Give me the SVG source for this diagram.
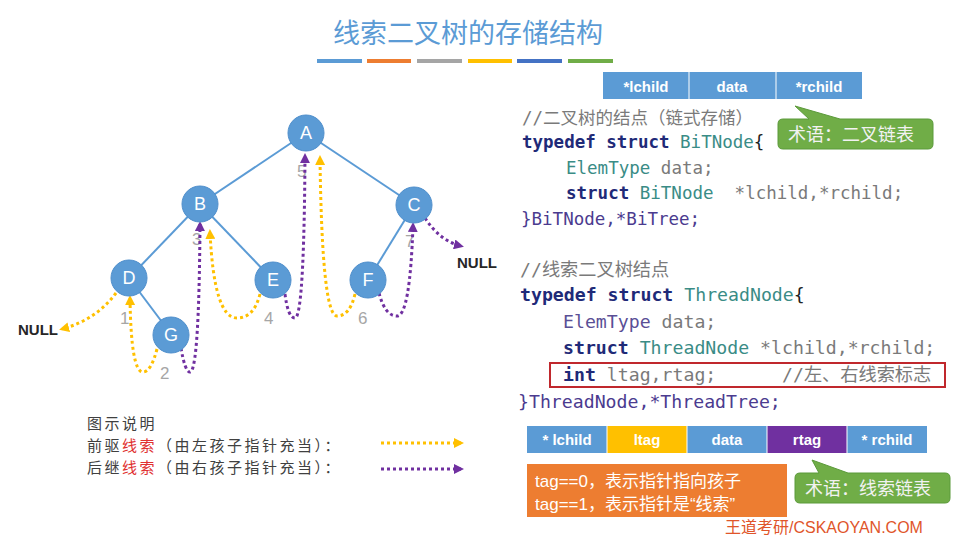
<svg xmlns="http://www.w3.org/2000/svg" width="958" height="543" viewBox="0 0 958 543">
<style>
.edge{stroke:#5b9bd5;stroke-width:2;fill:none}
.node circle{fill:#5b9bd5;stroke:#4f8fcc;stroke-width:1}
.node text{font-family:"Liberation Sans",Arial,sans-serif;font-size:18px;fill:#fff;text-anchor:middle}
.pre{stroke:#ffc000;stroke-width:3;stroke-dasharray:3 3;fill:none;marker-end:url(#ay)}
.suc{stroke:#7030a0;stroke-width:3;stroke-dasharray:3 3;fill:none;marker-end:url(#ap)}
.num{font-family:"Liberation Sans",Arial,sans-serif;font-size:17px;fill:#a6a6a6}
.null{font-family:"Liberation Sans",Arial,sans-serif;font-size:15px;font-weight:bold;fill:#262626}
.c1{font-family:"DejaVu Sans Mono","Noto Sans CJK SC",monospace;font-size:17.5px}
.c2{font-family:"DejaVu Sans Mono","Noto Sans CJK SC",monospace;font-size:18.2px}
.kw{fill:#1f2a78;font-weight:bold}
.ty{fill:#3a8c86}
.ty2{fill:#5a4f96}
.gr{fill:#7a7a7a}
.en{fill:#4b3b8f}
.bk{fill:#222}
.box text{font-family:"Liberation Sans",Arial,sans-serif;font-size:15px;font-weight:bold;fill:#fff;text-anchor:middle}
.call{fill:#70ad47;stroke:#5b9a3a;stroke-width:1}
.callt{font-family:"Noto Sans CJK SC",sans-serif;font-size:18px;fill:#f2f2f2}
.lg{font-family:"Noto Sans CJK SC",sans-serif;font-size:15px;letter-spacing:2.5px;fill:#404040}
.tg{font-family:"Liberation Sans","Noto Sans CJK SC",sans-serif;font-size:17px;fill:#fff}
</style>
<defs>
<marker id="ay" viewBox="0 0 10 10" refX="7" refY="5" markerWidth="10" markerHeight="10" markerUnits="userSpaceOnUse" orient="auto"><path d="M0,0 L10,5 L0,10 Z" fill="#ffc000"/></marker>
<marker id="ap" viewBox="0 0 10 10" refX="7" refY="5" markerWidth="10" markerHeight="10" markerUnits="userSpaceOnUse" orient="auto"><path d="M0,0 L10,5 L0,10 Z" fill="#7030a0"/></marker>
</defs>
<rect width="958" height="543" fill="#fff"/>

<!-- title -->
<text x="468" y="43" text-anchor="middle" font-family="Noto Sans CJK SC,sans-serif" font-size="27" fill="#5b9bd5">线索二叉树的存储结构</text>
<g id="title-bars">
<rect x="317" y="59" width="45" height="4" fill="#5b9bd5"/>
<rect x="367" y="59" width="44" height="4" fill="#ed7d31"/>
<rect x="417" y="59" width="45" height="4" fill="#a5a5a5"/>
<rect x="468" y="59" width="44" height="4" fill="#ffc000"/>
<rect x="517" y="59" width="45" height="4" fill="#4472c4"/>
<rect x="568" y="59" width="45" height="4" fill="#70ad47"/>
</g>

<!-- numbers -->
<g id="order-numbers">
<text class="num" x="120" y="324">1</text>
<text class="num" x="160" y="379">2</text>
<text class="num" x="192" y="245">3</text>
<text class="num" x="264" y="324">4</text>
<text class="num" x="297" y="177">5</text>
<text class="num" x="358" y="324">6</text>
<text class="num" x="405" y="247">7</text>
</g>

<g id="connectors">
<line class="edge" x1="306" y1="133" x2="200" y2="204"/>
<line class="edge" x1="306" y1="133" x2="414" y2="205"/>
<line class="edge" x1="200" y1="204" x2="129" y2="278"/>
<line class="edge" x1="200" y1="204" x2="273" y2="280"/>
<line class="edge" x1="414" y1="205" x2="368" y2="280"/>
<line class="edge" x1="129" y1="278" x2="171" y2="334"/>
<path class="pre" d="M116,293 Q96,320 62,329"/>
<path class="pre" d="M157,349 Q151,372 143,372 Q131,372 130,298"/>
<path class="suc" d="M181,348 Q185,372 190,372 Q199,372 200,224"/>
<path class="pre" d="M260,294 Q254,318 237,318 Q214,318 210,232"/>
<path class="suc" d="M285,294 Q288,318 295,318 Q304,318 305,156"/>
<path class="pre" d="M355,294 Q350,316 337,316 Q322,316 320,158"/>
<path class="suc" d="M379,293 Q385,316 397,316 Q410,316 413,225"/>
<path class="suc" d="M425,218 Q440,241 461,246"/>
</g>

<g id="node-A" class="node"><circle cx="306" cy="133" r="18"/><text x="306" y="139">A</text></g>
<g id="node-B" class="node"><circle cx="200" cy="204" r="18"/><text x="200" y="210">B</text></g>
<g id="node-C" class="node"><circle cx="414" cy="205" r="18"/><text x="414" y="211">C</text></g>
<g id="node-D" class="node"><circle cx="129" cy="278" r="18"/><text x="129" y="284">D</text></g>
<g id="node-E" class="node"><circle cx="273" cy="280" r="18"/><text x="273" y="286">E</text></g>
<g id="node-F" class="node"><circle cx="368" cy="280" r="18"/><text x="368" y="286">F</text></g>
<g id="node-G" class="node"><circle cx="171" cy="335" r="18"/><text x="171" y="341">G</text></g>
<g id="null-left"><text class="null" x="18" y="335">NULL</text></g>
<g id="null-right"><text class="null" x="457" y="268">NULL</text></g>

<!-- legend -->
<g id="legend">
<text class="lg" x="87" y="429">图示说明</text>
<text class="lg" x="87" y="451">前驱<tspan fill="#e03030">线索</tspan>（由左孩子指针充当）：</text>
<text class="lg" x="87" y="473">后继<tspan fill="#e03030">线索</tspan>（由右孩子指针充当）：</text>
<line class="pre" x1="381" y1="443" x2="461" y2="443"/>
<line class="suc" x1="381" y1="469" x2="461" y2="469"/>
</g>

<!-- top struct box -->
<g id="binode-box" class="box">
<rect x="603" y="72" width="86" height="27" fill="#5b9bd5"/>
<rect x="689" y="72" width="87" height="27" fill="#5b9bd5"/>
<rect x="776" y="72" width="86" height="27" fill="#5b9bd5"/>
<line x1="689" y1="72" x2="689" y2="99" stroke="#fff" stroke-width="1"/>
<line x1="776" y1="72" x2="776" y2="99" stroke="#fff" stroke-width="1"/>
<text x="646" y="92">*lchild</text>
<text x="732" y="92">data</text>
<text x="819" y="92">*rchild</text>
</g>

<g id="callout-1">
<path class="call" d="M783,119 L809,119 L795,106 L840,119 L928,119 Q933,119 933,124 L933,144 Q933,149 928,149 L783,149 Q778,149 778,144 L778,124 Q778,119 783,119 Z"/>
<text class="callt" x="788" y="141">术语：二叉链表</text>
</g>

<!-- code block 1 -->
<g id="code-binode">
<text class="c1 gr" x="522" y="124" xml:space="preserve">//二叉树的结点（链式存储）</text>
<text class="c1" x="522" y="148" xml:space="preserve"><tspan class="kw">typedef struct</tspan> <tspan class="ty">BiTNode</tspan><tspan class="bk">{</tspan></text>
<text class="c1" x="566" y="174" xml:space="preserve"><tspan class="ty">ElemType</tspan> <tspan class="gr">data;</tspan></text>
<text class="c1" x="566" y="199" xml:space="preserve"><tspan class="kw">struct</tspan> <tspan class="ty">BiTNode</tspan>  <tspan class="gr">*lchild,*rchild;</tspan></text>
<text class="c1 en" x="521" y="225" xml:space="preserve">}BiTNode,*BiTree;</text>
</g>

<!-- code block 2 -->
<g id="code-threadnode">
<text class="c2 gr" x="520" y="276" xml:space="preserve">//线索二叉树结点</text>
<text class="c2" x="520" y="301" xml:space="preserve"><tspan class="kw">typedef struct</tspan> <tspan class="ty">ThreadNode</tspan><tspan class="bk">{</tspan></text>
<text class="c2" x="563" y="328" xml:space="preserve"><tspan class="ty2">ElemType</tspan> <tspan class="gr">data;</tspan></text>
<text class="c2" x="563" y="354" xml:space="preserve"><tspan class="kw">struct</tspan> <tspan class="ty">ThreadNode</tspan> <tspan class="gr">*lchild,*rchild;</tspan></text>
<rect x="550" y="363" width="395" height="24" fill="none" stroke="#c0282d" stroke-width="2"/>
<text class="c2" x="563" y="381" xml:space="preserve"><tspan class="kw">int</tspan> <tspan class="gr">ltag,rtag;      //左、右线索标志</tspan></text>
<text class="c2 en" x="518" y="408" xml:space="preserve">}ThreadNode,*ThreadTree;</text>
</g>

<!-- thread node box -->
<g id="threadnode-box" class="box">
<rect x="527" y="426" width="80" height="27" fill="#5b9bd5"/>
<rect x="607" y="426" width="80" height="27" fill="#ffc000"/>
<rect x="687" y="426" width="80" height="27" fill="#5b9bd5"/>
<rect x="767" y="426" width="80" height="27" fill="#7030a0"/>
<rect x="847" y="426" width="80" height="27" fill="#5b9bd5"/>
<g stroke="#fff" stroke-width="1"><line x1="607" y1="426" x2="607" y2="453"/><line x1="687" y1="426" x2="687" y2="453"/><line x1="767" y1="426" x2="767" y2="453"/><line x1="847" y1="426" x2="847" y2="453"/></g>
<text x="567" y="445">* lchild</text>
<text x="647" y="445">ltag</text>
<text x="727" y="445">data</text>
<text x="807" y="445">rtag</text>
<text x="887" y="445">* rchild</text>
</g>

<g id="tag-note">
<rect x="527" y="464" width="260" height="53" fill="#ed7d31"/>
<text class="tg" x="535" y="487">tag==0，表示指针指向孩子</text>
<text class="tg" x="535" y="510">tag==1，表示指针是“线索”</text>
</g>

<g id="callout-2">
<path class="call" d="M800,473 L819,473 L812,460 L848,473 L945,473 Q950,473 950,478 L950,498 Q950,503 945,503 L800,503 Q795,503 795,498 L795,478 Q795,473 800,473 Z"/>
<text class="callt" x="805" y="495">术语：线索链表</text>
</g>

<text x="725" y="533" font-family="Liberation Sans,Noto Sans CJK SC,sans-serif" font-size="16" fill="#e0552a">王道考研/CSKAOYAN.COM</text>
</svg>
